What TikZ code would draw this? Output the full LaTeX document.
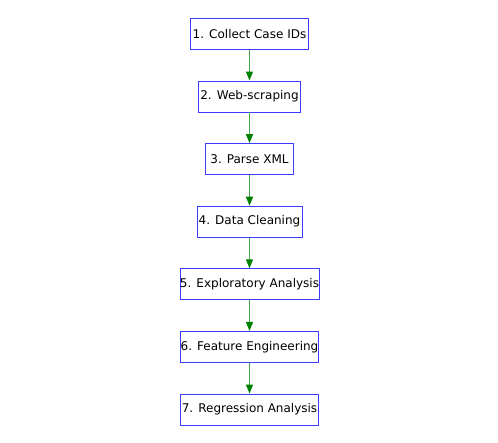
\documentclass[tikz,border=0pt]{standalone}
\usepackage{fontspec}
\setmainfont{DejaVu Sans}
\usetikzlibrary{arrows.meta, positioning}

\definecolor{linkline}{RGB}{70,165,70}
\definecolor{linkhead}{RGB}{0,128,0}
\definecolor{stageline}{RGB}{60,60,255}

\tikzset{
	stage/.style = {draw = stageline, line width = 0.8pt, fill = white,
		inner xsep = 0pt, minimum height = 31pt,
		font = \fontsize{12}{14}\selectfont},
	link/.style = {draw = linkline, line width = 1.4pt,
		-{Triangle[length = 9pt, width = 7pt, color = linkhead, fill = linkhead]}}
}

\begin{document}
\begin{tikzpicture}[x = 1pt, y = 1pt, node distance = 30.8pt]
		\useasboundingbox (0,0) rectangle (498,-442);
		
		\node [stage, minimum width = 117.4pt] (s1) at (249.5,-33.8) {1. Collect Case IDs};
		\node [stage, minimum width = 102.3pt, below = of s1] (s2) {2. Web-scraping};
		\node [stage, minimum width = 88pt, below = of s2] (s3) {3. Parse XML};
		\node [stage, minimum width = 105pt, below = of s3] (s4) {4. Data Cleaning};
		\node [stage, minimum width = 138.3pt, below = of s4] (s5) {5. Exploratory Analysis};
		\node [stage, minimum width = 138.3pt, below = of s5] (s6) {6. Feature Engineering};
		\node [stage, minimum width = 138.3pt, below = of s6] (s7) {7. Regression Analysis};
		
		\foreach \i [evaluate = \i as \j using int(\i+1)] in {1,...,6}
			\draw [link] (s\i) -- (s\j);
	\end{tikzpicture}
\end{document}
